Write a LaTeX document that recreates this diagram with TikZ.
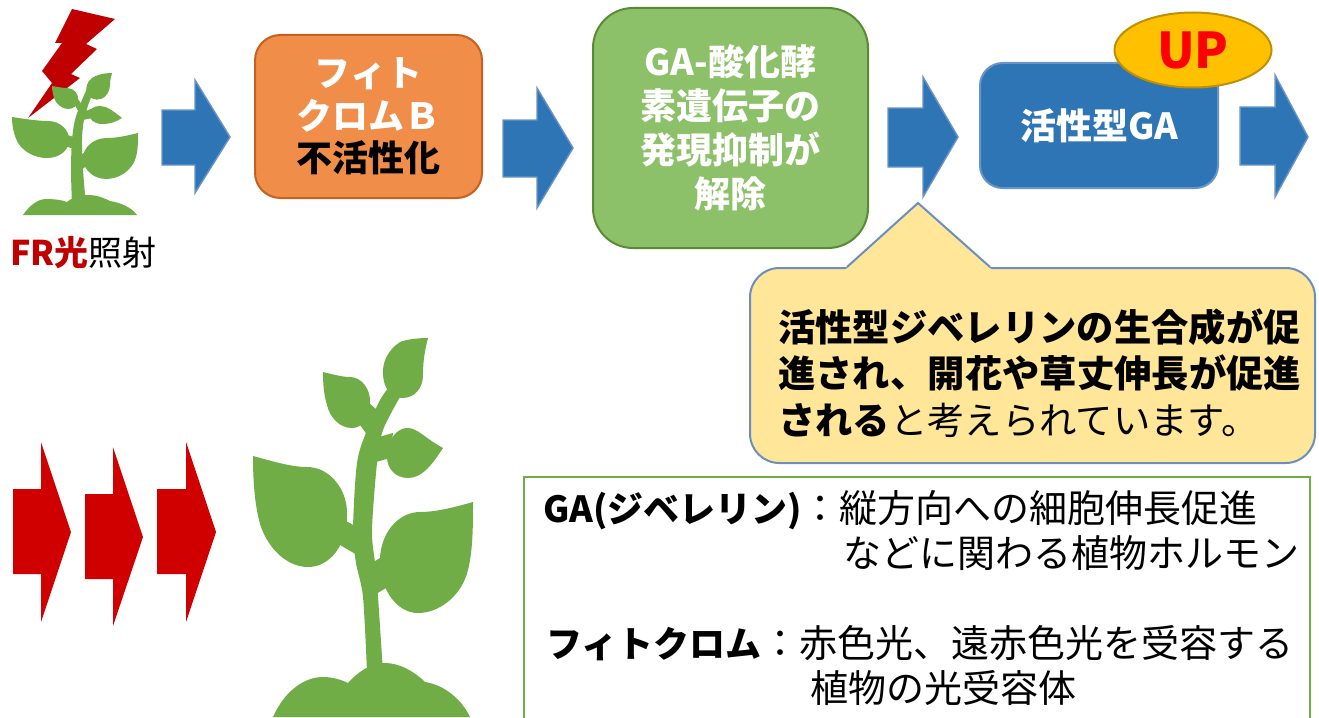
\documentclass[tikz,border=0pt]{standalone}
\usepackage{fontspec}
\setmainfont{Noto Sans CJK JP}
\usetikzlibrary{shapes.geometric}

\definecolor{arrowblue}{HTML}{2E75B6}
\definecolor{arrowedge}{HTML}{6A94C6}
\definecolor{orangefill}{HTML}{F08D49}
\definecolor{orangeline}{HTML}{C5601F}
\definecolor{greenfill}{HTML}{8CC16A}
\definecolor{greenline}{HTML}{5A8A36}
\definecolor{upfill}{HTML}{FFC000}
\definecolor{upline}{HTML}{BF9000}
\definecolor{uptext}{HTML}{FF0000}
\definecolor{calloutfill}{HTML}{FFE699}
\definecolor{calloutline}{HTML}{6C8EBF}
\definecolor{plantgreen}{HTML}{70AD47}
\definecolor{boltred}{HTML}{C00000}
\definecolor{pushred}{HTML}{D00000}
\definecolor{noteline}{HTML}{70AD47}

\newcommand\fsz[2]{\fontsize{#1}{#2}\selectfont}
\newcommand\termfont{\fontsize{27}{33}\selectfont\bfseries}

\tikzset{
  blockarrow/.style={fill=arrowblue, draw=arrowedge, line width=1.1pt, line join=miter},
  redarrow/.style={fill=pushred},
  stagebox/.style={rectangle, line width=1.5pt, align=center, inner sep=0pt},
  leaf/.style={fill=plantgreen},
  bodytext/.style={inner sep=0pt, anchor=west, font=\fsz{28.5}{34}},
}

\begin{document}
\begin{tikzpicture}[x=0.75pt,y=-0.75pt]
\useasboundingbox (0,0) rectangle (1319,717);

% ---------- small plant with far-red bolt ----------
\fill[boltred] (72,9) -- (115,19) -- (86,44) -- (97,49) -- (71,74) -- (80,78)
  -- (28,118) -- (52,83) -- (42,71) -- (62,43) -- (55,43) -- cycle;

\fill[plantgreen] plot[smooth] coordinates {(72,205) (71,170) (72,140) (75,120) (82,100) (90,82)}
  -- plot[smooth] coordinates {(97,86) (90,100) (84,120) (82,140) (83,170) (86,205)} -- cycle;
% leaves
\fill[leaf] (12,117) .. controls (25,119) and (38,121) .. (48,121)
  .. controls (60,121) and (70,130) .. (69,141) .. controls (68,152) and (58,158) .. (47,158)
  .. controls (35,158) and (24,152) .. (18,143) .. controls (14,135) and (12,127) .. (12,117) -- cycle;
\fill[leaf] (64,134) -- (74,137) -- (75,149) -- (64,146) -- cycle;
\fill[leaf] (138,133) .. controls (126,136) and (116,138) .. (107,138)
  .. controls (93,138) and (83,148) .. (83,158) .. controls (83,170) and (94,179) .. (106,179)
  .. controls (120,179) and (131,170) .. (135,160) .. controls (138,152) and (138,143) .. (138,133) -- cycle;
\fill[leaf] (80,156) -- (87,150) -- (89,165) -- (82,169) -- cycle;
\fill[leaf] (52,86) .. controls (58,87) and (63,88) .. (67,88)
  .. controls (74,88) and (79,94) .. (78,100) .. controls (78,106) and (73,109) .. (68,109)
  .. controls (62,109) and (56,104) .. (54,98) .. controls (53,94) and (52,90) .. (52,86) -- cycle;
\fill[leaf] (74,103) -- (78,99) -- (84,108) -- (79,113) -- cycle;
\fill[leaf] (112,73) .. controls (104,73) and (96,75) .. (92,78)
  .. controls (87,82) and (85,88) .. (87,93) .. controls (89,98) and (95,101) .. (101,99)
  .. controls (107,97) and (110,90) .. (110,85) .. controls (110,80) and (111,77) .. (112,73) -- cycle;
\fill[leaf] (122,118) .. controls (116,122) and (110,124) .. (102,124)
  .. controls (94,124) and (89,119) .. (89,114) .. controls (89,109) and (94,106) .. (100,106)
  .. controls (107,106) and (113,111) .. (122,118) -- cycle;
\fill[leaf] (82,112) -- (91,109) -- (92,118) -- (83,120) -- cycle;
% ground
\fill[plantgreen] (23,215) .. controls (30,205) and (37,200) .. (45,199)
  .. controls (55,199) and (62,200) .. (67,202) .. controls (73,197) and (80,195) .. (88,195)
  .. controls (97,195) and (104,198) .. (110,201) .. controls (122,203) and (132,208) .. (137,215) -- cycle;

\node[inner sep=0pt, anchor=west, font=\fsz{25.5}{30}] (frlabel) at (10,253)
  {\textcolor{boltred}{\bfseries FR光}照射};

% ---------- top row ----------
\fill[blockarrow] (162,110) -- (195,110) -- (195,80) -- (230,137) -- (195,193) -- (195,165) -- (162,165) -- cycle;

\node[stagebox, fill=orangefill, draw=orangeline, minimum width=170.25pt, minimum height=122.25pt,
  rounded corners=19pt, font=\fsz{27}{32}\bfseries] (phyb) at (368.5,116.5)
  {\textcolor{white}{フィト}\\\textcolor{white}{クロムＢ}\\不活性化};

\fill[blockarrow] (503,120) -- (537,120) -- (537,88) -- (573,148) -- (537,208) -- (537,177) -- (503,177) -- cycle;

\node[stagebox, fill=greenfill, draw=greenline, minimum width=206.25pt, minimum height=180pt,
  rounded corners=30pt, text=white, font=\fsz{27}{33}\bfseries] (gaox) at (730.5,128)
  {GA-酸化酵\\素遺伝子の\\発現抑制が\\解除};

\fill[blockarrow] (888,108) -- (923,108) -- (923,77) -- (958,137) -- (923,197) -- (923,167) -- (888,167) -- cycle;

\node[stagebox, fill=arrowblue, draw=arrowedge, minimum width=178.5pt, minimum height=93.75pt,
  rounded corners=17pt, text=white, font=\fsz{27}{32}\bfseries] (activega) at (1099,125.5)
  {活性型GA};

\node[ellipse, fill=upfill, draw=upline, line width=1.5pt, minimum width=117.75pt, minimum height=56.25pt,
  inner sep=0pt, text=uptext, font=\fsz{37}{40}\bfseries] (up) at (1193,50) {UP};

\fill[blockarrow] (1240,107) -- (1275,107) -- (1275,75) -- (1308,137) -- (1275,197) -- (1275,165) -- (1240,165) -- cycle;

% ---------- speech bubble ----------
\node[rectangle, fill=calloutfill, draw=calloutline, line width=1.5pt, rounded corners=22pt,
  minimum width=423.75pt, minimum height=146.25pt] (bubble) at (1032.5,365.5) {};
\fill[calloutfill] (845,270) -- (847,268) -- (918,203) -- (990,268) -- (992,270) -- cycle;
\draw[calloutline, line width=1.5pt, line join=miter] (bubble.north west -| 847,0) -- (918,203) -- (bubble.north west -| 990,0);
\node[inner sep=0pt, anchor=west, align=left, font=\fsz{28}{35}] (bubbletext) at (778,373)
  {\textbf{活性型ジベレリンの生合成が促}\\\textbf{進され、開花や草丈伸長が促進}\\\textbf{される}と考えられています。};

% ---------- bottom: red arrows and grown plant ----------
\fill[redarrow] (13,489) -- (41,489) -- (41,442) -- (71,532) -- (41,622) -- (41,574) -- (13,574) -- cycle;
\fill[redarrow] (85,494) -- (113,494) -- (113,447) -- (143,537) -- (113,626) -- (113,579) -- (85,579) -- cycle;
\fill[redarrow] (157,489) -- (186,489) -- (186,442) -- (216,532) -- (186,622) -- (186,574) -- (157,574) -- cycle;

% stem
\fill[plantgreen] plot[smooth] coordinates {(367,672) (363,597) (356,563) (353,530) (357,463) (367,430) (380,400) (392,383)}
  -- plot[smooth] coordinates {(400,397) (383,430) (377,463) (372,530) (375,563) (378,597) (383,672)} -- cycle;
% big left leaf
\fill[leaf] (253,456) .. controls (275,462) and (292,467) .. (307,467)
  .. controls (330,467) and (348,490) .. (347,515) .. controls (347,545) and (330,567) .. (308,567)
  .. controls (285,567) and (265,545) .. (259,520) .. controls (254,500) and (253,475) .. (253,456) -- cycle;
\fill[leaf] (340,545) -- (346,521) -- (357,527) -- (359,556) -- cycle;
% big right leaf
\fill[leaf] (473,502) .. controls (452,508) and (435,512) .. (420,512)
  .. controls (397,512) and (380,535) .. (380,560) .. controls (380,590) and (397,613) .. (418,613)
  .. controls (440,613) and (462,595) .. (468,570) .. controls (473,550) and (473,525) .. (473,502) -- cycle;
\fill[leaf] (372,563) -- (383,556) -- (386,588) -- (376,594) -- cycle;
% upper left leaf
\fill[leaf] (323,372) .. controls (335,375) and (343,377) .. (350,377)
  .. controls (362,377) and (371,390) .. (370,403) .. controls (370,418) and (362,428) .. (352,428)
  .. controls (340,428) and (330,418) .. (327,405) .. controls (324,395) and (323,385) .. (323,372) -- cycle;
\fill[leaf] (360,425) -- (368,402) -- (377,410) -- (368,436) -- cycle;
% top leaf
\fill[leaf] (428,338) .. controls (415,338) and (405,340) .. (400,342)
  .. controls (388,350) and (382,362) .. (383,375) .. controls (384,390) and (392,398) .. (402,398)
  .. controls (415,398) and (423,388) .. (423,375) .. controls (423,360) and (425,350) .. (428,338) -- cycle;
% middle right leaf
\fill[leaf] (443,448) .. controls (432,465) and (422,478) .. (408,478)
  .. controls (395,478) and (387,468) .. (387,457) .. controls (387,440) and (397,428) .. (407,428)
  .. controls (418,428) and (423,437) .. (443,448) -- cycle;
\fill[leaf] (375,438) -- (393,433) -- (390,458) -- (376,462) -- cycle;
% ground
\fill[plantgreen] (273,717) .. controls (285,690) and (305,677) .. (323,677)
  .. controls (333,677) and (342,680) .. (348,683) .. controls (358,672) and (370,663) .. (385,663)
  .. controls (400,663) and (415,672) .. (425,682) .. controls (445,685) and (462,700) .. (470,717) -- cycle;

% ---------- glossary box ----------
\coordinate (noteTL) at (524,477);
\coordinate (noteTR) at (1310,477);
\draw[noteline, line width=2.2pt] (524,725) -- (noteTL) -- (noteTR) -- (1310,725);

\node[bodytext] (gaterm) at (543,510) {{\termfont GA(ジベレリン)}：縦方向への細胞伸長促進};
\node[bodytext] (gadesc) at (843,553) {などに関わる植物ホルモン};
\node[bodytext] (phyterm) at (546,643) {{\termfont フィトクロム}：赤色光、遠赤色光を受容する};
\node[bodytext] (phydesc) at (810,688) {植物の光受容体};

\end{tikzpicture}
\end{document}
